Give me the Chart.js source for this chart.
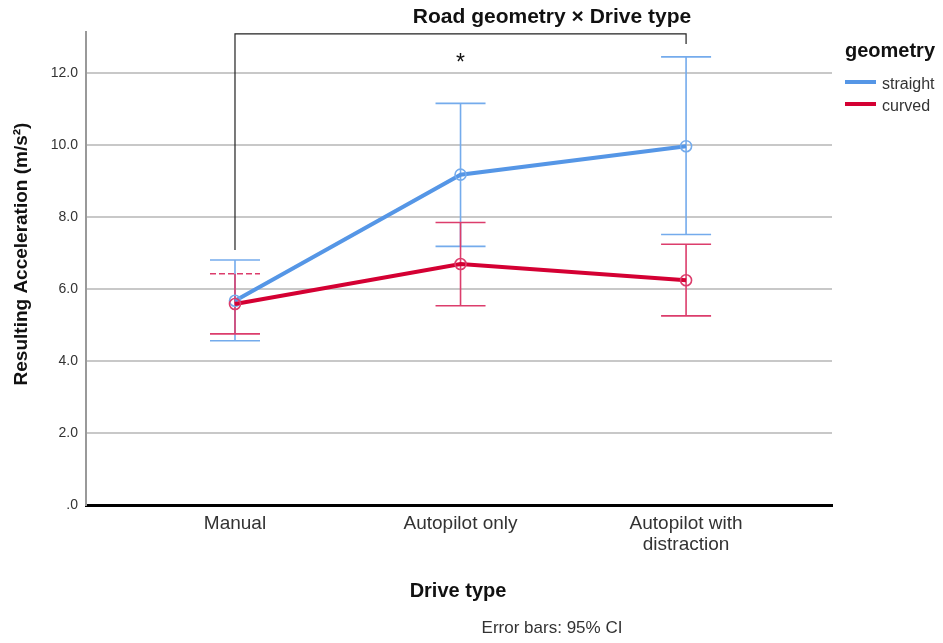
<!DOCTYPE html>
<html>
<head>
<meta charset="utf-8">
<script src="https://cdn.jsdelivr.net/npm/chart.js@4.4.1/dist/chart.umd.min.js"></script>
<style>
  html, body { margin: 0; padding: 0; background: #fff; }
</style>
</head>
<body>
<canvas id="chart" width="943" height="643"></canvas>
<script>
// ── Data ──────────────────────────────────────────────
const driveTypes = ['Manual', 'Autopilot only', ['Autopilot with', 'distraction']]
const xPositions = [1, 2, 3]

const straightMean  = [5.67, 9.17, 9.96]
const straightLower = [4.56, 7.18, 7.51]
const straightUpper = [6.80, 11.15, 12.44]

const curvedMean  = [5.58, 6.69, 6.24]
const curvedLower = [4.75, 5.53, 5.25]
const curvedUpper = [6.42, 7.84, 7.24]

const yTicks      = [0, 2, 4, 6, 8, 10, 12]
const yTickLabels = ['.0', '2.0', '4.0', '6.0', '8.0', '10.0', '12.0']

// significance bracket: from Manual to Autopilot with distraction, star over Autopilot only
const bracketTop   = 13.08
const bracketEnds  = [7.08, 12.8]
const starAt       = [2, 12.33]

// ── Style ─────────────────────────────────────────────
const FONT = '"Liberation Sans", Arial, sans-serif'
const BLUE      = '#5596e6'
const BLUE_BAR  = '#74abec'
const RED       = '#d40033'
const RED_BAR   = '#dc3d6c'

function pts(means) {
  return means.map((m, i) => ({ x: xPositions[i], y: m }))
}

// ── Error bars, bracket, texts ────────────────────────
const overlay = {
  id: 'overlay',
  beforeDatasetsDraw(chart) {
    const { ctx, scales: { x, y } } = chart
    const bars = [
      { lo: straightLower, hi: straightUpper, color: BLUE_BAR, dashHi: [] },
      { lo: curvedLower,   hi: curvedUpper,   color: RED_BAR,  dashHi: [0] }
    ]
    ctx.save()
    ctx.lineWidth = 1.6
    bars.forEach(b => {
      ctx.strokeStyle = b.color
      xPositions.forEach((v, i) => {
        const px = x.getPixelForValue(v)
        const yl = y.getPixelForValue(b.lo[i])
        const yh = y.getPixelForValue(b.hi[i])
        ctx.setLineDash([])
        ctx.beginPath()
        ctx.moveTo(px, yl); ctx.lineTo(px, yh)
        ctx.moveTo(px - 25, yl); ctx.lineTo(px + 25, yl)
        ctx.stroke()
        ctx.setLineDash(b.dashHi.includes(i) ? [6, 3] : [])
        ctx.beginPath()
        ctx.moveTo(px - 25, yh); ctx.lineTo(px + 25, yh)
        ctx.stroke()
      })
    })
    ctx.restore()
  },
  afterDraw(chart) {
    const { ctx, scales: { x, y } } = chart
    ctx.save()

    // bracket
    const x1 = x.getPixelForValue(xPositions[0])
    const x3 = x.getPixelForValue(xPositions[2])
    const yt = y.getPixelForValue(bracketTop)
    ctx.strokeStyle = '#222'
    ctx.lineWidth = 1.2
    ctx.beginPath()
    ctx.moveTo(x1, y.getPixelForValue(bracketEnds[0]))
    ctx.lineTo(x1, yt)
    ctx.lineTo(x3, yt)
    ctx.lineTo(x3, y.getPixelForValue(bracketEnds[1]))
    ctx.stroke()

    ctx.fillStyle = '#111'
    ctx.textAlign = 'center'
    ctx.textBaseline = 'middle'
    ctx.font = '23px ' + FONT
    ctx.fillText('*', x.getPixelForValue(starAt[0]), y.getPixelForValue(starAt[1]) + 3)

    // title
    ctx.font = 'bold 21px ' + FONT
    ctx.fillText('Road geometry \u00d7 Drive type', 552, 17)

    // legend
    ctx.textAlign = 'left'
    ctx.textBaseline = 'alphabetic'
    ctx.font = 'bold 20px ' + FONT
    ctx.fillText('geometry', 845, 57)
    ctx.font = '16px ' + FONT
    ctx.fillStyle = '#333'
    ;[['straight', BLUE, 82], ['curved', RED, 104]].forEach(([label, color, ly]) => {
      ctx.strokeStyle = color
      ctx.lineWidth = 4
      ctx.beginPath()
      ctx.moveTo(845, ly); ctx.lineTo(876, ly)
      ctx.stroke()
      ctx.fillText(label, 882, ly + 7)
    })

    // axis titles
    ctx.fillStyle = '#111'
    ctx.textAlign = 'center'
    ctx.font = 'bold 20px ' + FONT
    ctx.fillText('Drive type', 458, 597)

    ctx.font = '17px ' + FONT
    ctx.fillStyle = '#333'
    ctx.fillText('Error bars: 95% CI', 552, 633)

    ctx.save()
    ctx.translate(22, 254)
    ctx.rotate(-Math.PI / 2)
    ctx.textBaseline = 'middle'
    ctx.fillStyle = '#111'
    ctx.font = 'bold 19px ' + FONT
    ctx.fillText('Resulting Acceleration (m/s\u00b2)', 0, 0)
    ctx.restore()

    ctx.restore()
  }
}

// ── Chart ─────────────────────────────────────────────
new Chart(document.getElementById('chart'), {
  type: 'line',
  data: {
    datasets: [
      {
        label: 'straight',
        data: pts(straightMean),
        borderColor: BLUE,
        borderWidth: 4,
        pointRadius: 5.5,
        pointBorderWidth: 1.6,
        pointBorderColor: BLUE_BAR,
        pointBackgroundColor: 'rgba(255,255,255,0)',
        order: 2
      },
      {
        label: 'curved',
        data: pts(curvedMean),
        borderColor: RED,
        borderWidth: 4,
        pointRadius: 5.5,
        pointBorderWidth: 1.6,
        pointBorderColor: RED_BAR,
        pointBackgroundColor: 'rgba(255,255,255,0)',
        order: 1
      }
    ]
  },
  options: {
    responsive: false,
    animation: false,
    devicePixelRatio: 1,
    layout: { padding: { left: 0, right: 111, top: 32, bottom: 0 } },
    plugins: { legend: { display: false }, tooltip: { enabled: false } },
    scales: {
      x: {
        type: 'linear',
        min: 0.3394,
        max: 3.647,
        afterBuildTicks: s => { s.ticks = xPositions.map(v => ({ value: v })) },
        afterFit: s => { s.height = 138 },
        ticks: {
          autoSkip: false,
          maxRotation: 0,
          padding: 8,
          color: '#333',
          font: { family: FONT, size: 19, lineHeight: 1.1 },
          callback: v => driveTypes[xPositions.indexOf(v)]
        },
        grid: { display: false, drawTicks: false },
        border: { display: true, color: '#000', width: 3 }
      },
      y: {
        min: 0,
        max: 13.13,
        afterBuildTicks: s => { s.ticks = yTicks.map(v => ({ value: v })) },
        afterFit: s => { s.width = 86 },
        ticks: {
          padding: 8,
          color: '#333',
          font: { family: FONT, size: 14 },
          callback: v => yTickLabels[yTicks.indexOf(v)]
        },
        grid: { color: '#c8c8c8', lineWidth: 2, drawTicks: false },
        border: { display: true, color: '#999', width: 2 }
      }
    }
  },
  plugins: [overlay]
})
</script>
</body>
</html>
